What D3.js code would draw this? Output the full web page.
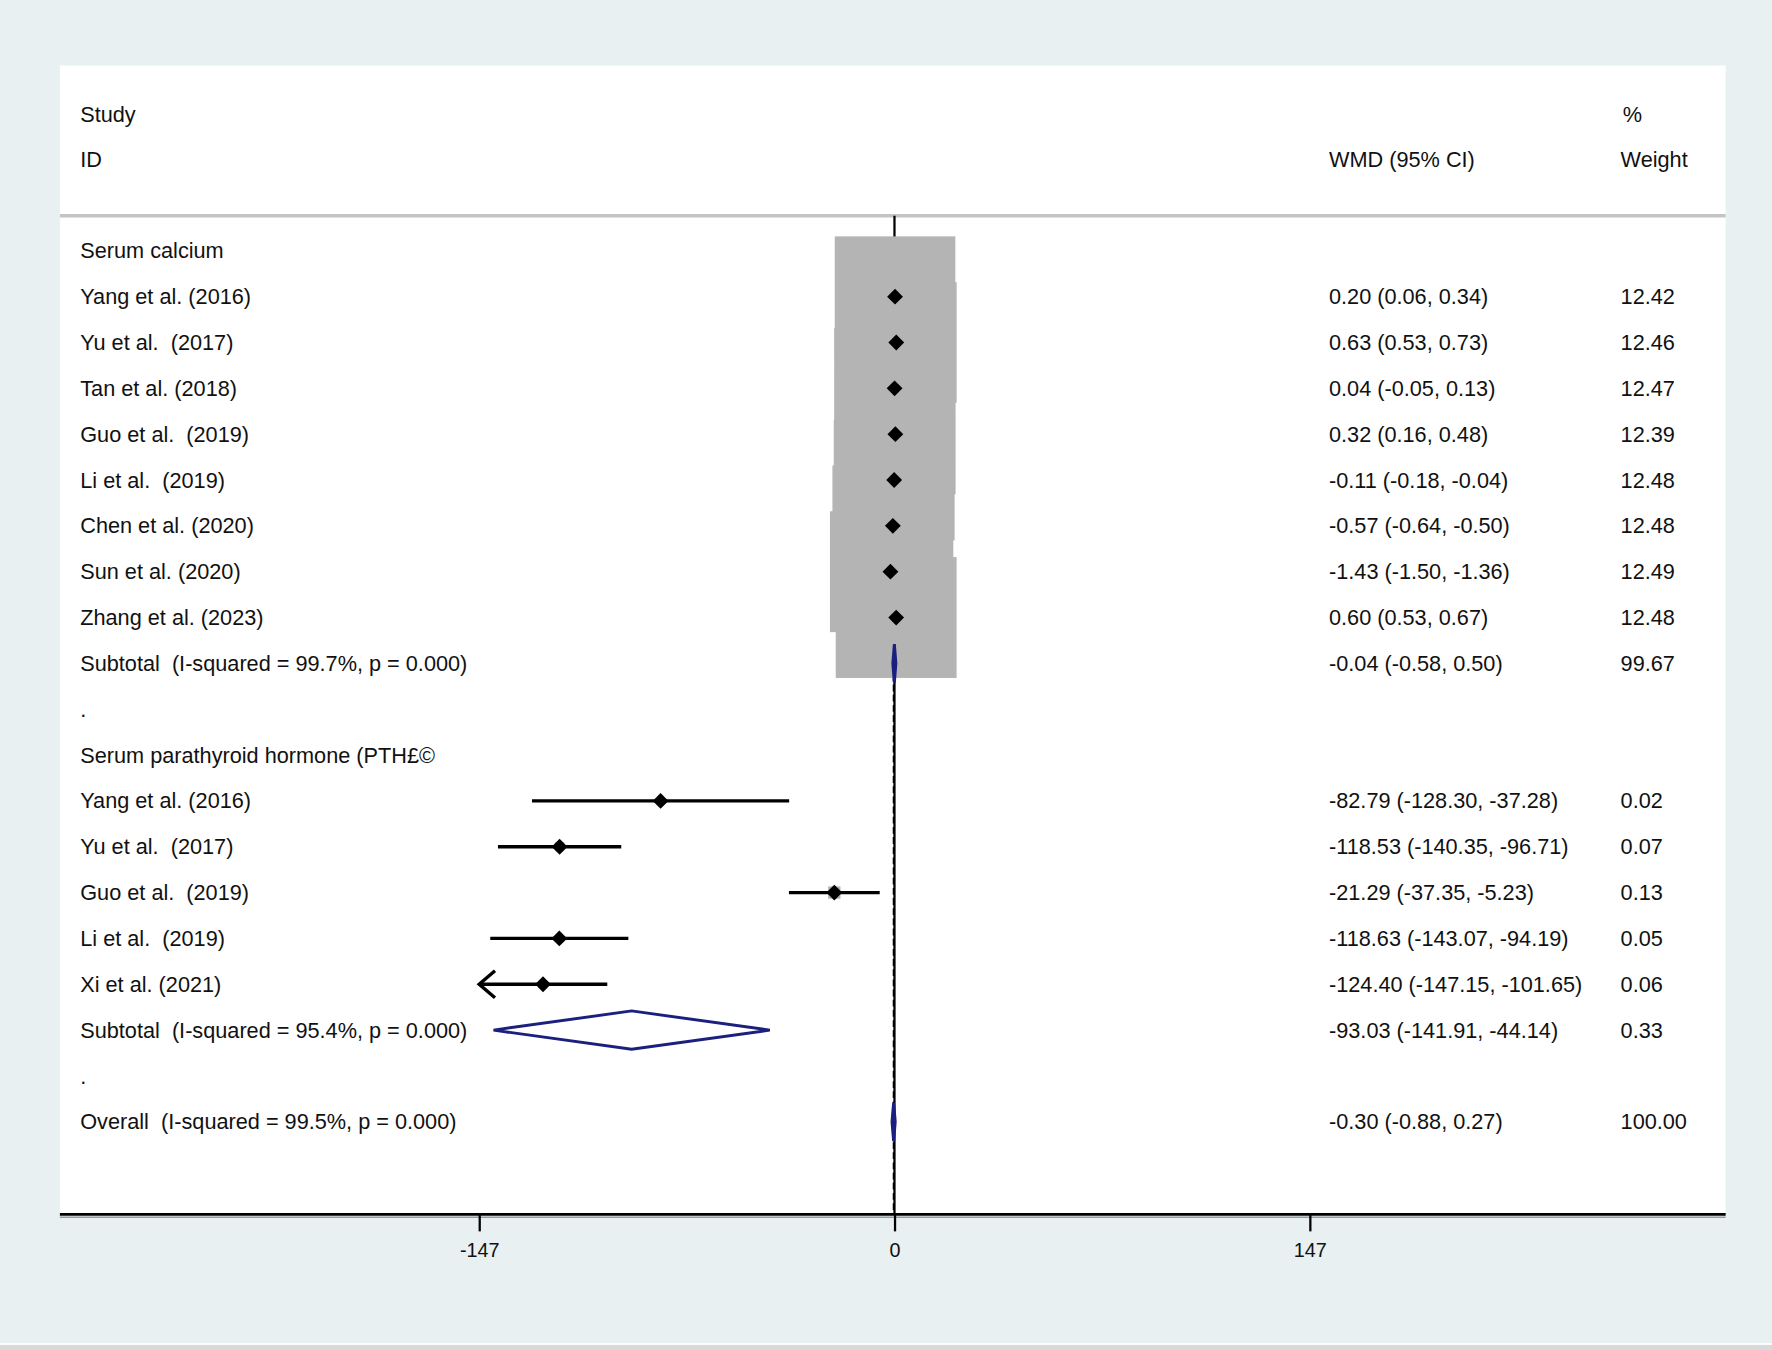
<!DOCTYPE html>
<html>
<head>
<meta charset="utf-8">
<script src="https://cdn.jsdelivr.net/npm/d3@7"></script>
<style>
  html, body { margin: 0; padding: 0; background: #e8f0f2; }
  svg { display: block; }
  text { font-family: "Liberation Sans", Arial, sans-serif; fill: #111; white-space: pre; }
</style>
</head>
<body>
<div class="chart"></div>
<script>
// Data
const calciumLabels = ['Yang et al. (2016)', 'Yu et al.  (2017)', 'Tan et al. (2018)', 'Guo et al.  (2019)',
  'Li et al.  (2019)', 'Chen et al. (2020)', 'Sun et al. (2020)', 'Zhang et al. (2023)']
const calciumEst = [0.20, 0.63, 0.04, 0.32, -0.11, -0.57, -1.43, 0.60]
const calciumLo = [0.06, 0.53, -0.05, 0.16, -0.18, -0.64, -1.50, 0.53]
const calciumHi = [0.34, 0.73, 0.13, 0.48, -0.04, -0.50, -1.36, 0.67]
const calciumWeight = [12.42, 12.46, 12.47, 12.39, 12.48, 12.48, 12.49, 12.48]

const pthLabels = ['Yang et al. (2016)', 'Yu et al.  (2017)', 'Guo et al.  (2019)', 'Li et al.  (2019)', 'Xi et al. (2021)']
const pthEst = [-82.79, -118.53, -21.29, -118.63, -124.40]
const pthLo = [-128.30, -140.35, -37.35, -143.07, -147.15]
const pthHi = [-37.28, -96.71, -5.23, -94.19, -101.65]
const pthWeight = [0.02, 0.07, 0.13, 0.05, 0.06]

const subtotalLabels = ['Subtotal  (I-squared = 99.7%, p = 0.000)', 'Subtotal  (I-squared = 95.4%, p = 0.000)']
const subtotalEst = [-0.04, -93.03]
const subtotalLo = [-0.58, -141.91]
const subtotalHi = [0.50, -44.14]
const subtotalWeight = [99.67, 0.33]

const overallLabel = 'Overall  (I-squared = 99.5%, p = 0.000)'
const overallEst = -0.30, overallLo = -0.88, overallHi = 0.27, overallWeight = 100.00

const groupTitles = ['Serum calcium', 'Serum parathyroid hormone (PTH£©']
const xTicks = [-147, 0, 147]

// build rows
const rows = []
rows.push({ type: 'title', label: groupTitles[0] })
calciumLabels.forEach((l, i) => rows.push({ type: 'study', label: l, est: calciumEst[i], lo: calciumLo[i], hi: calciumHi[i], w: calciumWeight[i] }))
rows.push({ type: 'sub', label: subtotalLabels[0], est: subtotalEst[0], lo: subtotalLo[0], hi: subtotalHi[0], w: subtotalWeight[0] })
rows.push({ type: 'dot', label: '.' })
rows.push({ type: 'title', label: groupTitles[1] })
pthLabels.forEach((l, i) => rows.push({ type: 'study', label: l, est: pthEst[i], lo: pthLo[i], hi: pthHi[i], w: pthWeight[i] }))
rows.push({ type: 'sub', label: subtotalLabels[1], est: subtotalEst[1], lo: subtotalLo[1], hi: subtotalHi[1], w: subtotalWeight[1] })
rows.push({ type: 'dot', label: '.' })
rows.push({ type: 'sub', label: overallLabel, est: overallEst, lo: overallLo, hi: overallHi, w: overallWeight })
rows.forEach((r, i) => r.idx = i)

// Dimensions (drawn in a 1568 x 1195 frame, stretched to the window)
const dims = { width: 1568, height: 1195, panelX0: 53, panelX1: 1527, panelY0: 58, sepY: 191, axisY: 1075 }

const f2 = d3.format('.2f')
const fmt = v => f2(v).replace('−', '-')

const xScale = d3.scaleLinear().domain([-147, 147]).range([424, 1159])
const yScale = d3.scaleLinear().domain([0, rows.length - 1]).range([222, 993])
const boxScale = d3.scaleSqrt().domain([0, 12.49]).range([0, 107])

const svg = d3.select('.chart').append('svg')
  .attr('width', 1772).attr('height', 1350)
  .attr('viewBox', `0 0 ${dims.width} ${dims.height}`)
  .attr('preserveAspectRatio', 'none')

// background
svg.append('rect').attr('width', dims.width).attr('height', dims.height).attr('fill', '#e8f0f2')
svg.append('rect').attr('x', 0).attr('y', 1189).attr('width', dims.width).attr('height', 1.5).attr('fill', '#ffffff')
svg.append('rect').attr('x', 0).attr('y', 1190.5).attr('width', dims.width).attr('height', 5).attr('fill', '#d8d9d9')
svg.append('rect')
  .attr('x', dims.panelX0).attr('y', dims.panelY0)
  .attr('width', dims.panelX1 - dims.panelX0).attr('height', dims.axisY - dims.panelY0)
  .attr('fill', '#ffffff')

// headers
const fs = 19.2
const colStudy = 71, colWmd = 1176, colWeight = 1434
const header = svg.append('g').attr('font-size', fs)
header.append('text').attr('x', colStudy).attr('y', 101).attr('dy', '0.35em').text('Study')
header.append('text').attr('x', colStudy).attr('y', 141).attr('dy', '0.35em').text('ID')
header.append('text').attr('x', colWmd).attr('y', 141).attr('dy', '0.35em').text('WMD (95% CI)')
header.append('text').attr('x', colWeight + 2).attr('y', 101).attr('dy', '0.35em').text('%')
header.append('text').attr('x', colWeight).attr('y', 141).attr('dy', '0.35em').text('Weight')

svg.append('line')
  .attr('x1', dims.panelX0).attr('x2', dims.panelX1)
  .attr('y1', dims.sepY).attr('y2', dims.sepY)
  .attr('stroke', '#c4c4c4').attr('stroke-width', 3)

// zero line
svg.append('line')
  .attr('x1', xScale(0)).attr('x2', xScale(0))
  .attr('y1', dims.sepY).attr('y2', dims.axisY)
  .attr('stroke', '#000').attr('stroke-width', 2)

// overall dashed line
svg.append('line')
  .attr('x1', xScale(overallEst)).attr('x2', xScale(overallEst))
  .attr('y1', yScale(0) - 12).attr('y2', dims.axisY)
  .attr('stroke', '#000').attr('stroke-width', 1.6).attr('stroke-dasharray', '6,3')

// weight boxes (on top of the reference lines)
const studies = rows.filter(r => r.type === 'study')
svg.append('g').selectAll('rect').data(studies).join('rect')
  .attr('x', d => xScale(d.est) - boxScale(d.w) / 2)
  .attr('y', d => yScale(d.idx) - boxScale(d.w) / 2)
  .attr('width', d => boxScale(d.w))
  .attr('height', d => boxScale(d.w))
  .attr('fill', '#b4b4b4')

// CI lines (clipped at axis limits with arrows)
const xMin = xScale.domain()[0], xMax = xScale.domain()[1]
const ciG = svg.append('g')
ciG.selectAll('line').data(studies).join('line')
  .attr('x1', d => xScale(Math.max(d.lo, xMin)))
  .attr('x2', d => xScale(Math.min(d.hi, xMax)))
  .attr('y1', d => yScale(d.idx)).attr('y2', d => yScale(d.idx))
  .attr('stroke', '#000').attr('stroke-width', 3)
ciG.selectAll('path.arrow').data(studies.filter(d => d.lo < xMin)).join('path')
  .classed('arrow', true)
  .attr('d', d => {
    const x = xScale(xMin), y = yScale(d.idx)
    return `M${x + 14},${y - 12} L${x},${y} L${x + 14},${y + 12}`
  })
  .attr('fill', 'none').attr('stroke', '#000').attr('stroke-width', 3)

// point markers
svg.append('g').selectAll('path').data(studies).join('path')
  .attr('transform', d => `translate(${xScale(d.est)},${yScale(d.idx)})`)
  .attr('d', 'M0,-7 L7,0 L0,7 L-7,0 Z')
  .attr('fill', '#000')

// pooled diamonds
const subs = rows.filter(r => r.type === 'sub')
svg.append('g').selectAll('path').data(subs).join('path')
  .attr('d', d => {
    const y = yScale(d.idx), h = 17
    return `M${xScale(d.lo)},${y} L${xScale(d.est)},${y - h} L${xScale(d.hi)},${y} L${xScale(d.est)},${y + h} Z`
  })
  .attr('fill', 'none').attr('stroke', '#1b1f7d').attr('stroke-width', 2.6)

// row text
const textG = svg.append('g').attr('font-size', fs)
textG.selectAll('text.lab').data(rows).join('text')
  .classed('lab', true)
  .attr('x', colStudy).attr('y', d => yScale(d.idx)).attr('dy', '0.35em')
  .text(d => d.label)
const valued = rows.filter(r => r.est !== undefined)
textG.selectAll('text.wmd').data(valued).join('text')
  .classed('wmd', true)
  .attr('x', colWmd).attr('y', d => yScale(d.idx)).attr('dy', '0.35em')
  .text(d => `${fmt(d.est)} (${fmt(d.lo)}, ${fmt(d.hi)})`)
textG.selectAll('text.wt').data(valued).join('text')
  .classed('wt', true)
  .attr('x', colWeight).attr('y', d => yScale(d.idx)).attr('dy', '0.35em')
  .text(d => fmt(d.w))

// x axis
svg.append('line')
  .attr('x1', dims.panelX0).attr('x2', dims.panelX1)
  .attr('y1', dims.axisY + 2.5).attr('y2', dims.axisY + 2.5)
  .attr('stroke', '#9a9a9a').attr('stroke-width', 1.5)
svg.append('line')
  .attr('x1', dims.panelX0).attr('x2', dims.panelX1)
  .attr('y1', dims.axisY).attr('y2', dims.axisY)
  .attr('stroke', '#000').attr('stroke-width', 2.5)

const xAxis = d3.axisBottom(xScale).tickValues(xTicks).tickSize(15).tickSizeOuter(0).tickPadding(10)
  .tickFormat(d => String(d))
const axisG = svg.append('g').attr('transform', `translate(0,${dims.axisY})`).call(xAxis)
axisG.select('.domain').remove()
axisG.selectAll('.tick line').attr('stroke', '#000').attr('stroke-width', 2)
axisG.selectAll('.tick text')
  .attr('font-family', '"Liberation Sans", Arial, sans-serif')
  .attr('font-size', 17.5).attr('fill', '#111')
</script>
</body>
</html>
